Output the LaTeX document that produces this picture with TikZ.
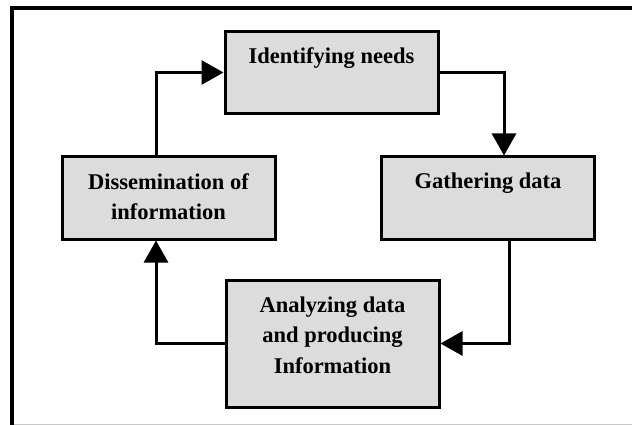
\documentclass[tikz,border=0pt]{standalone}
\usepackage{fontspec}
\setmainfont{Liberation Serif}
\usetikzlibrary{arrows.meta}
\definecolor{boxgray}{RGB}{220,220,220}
\begin{document}
\begin{tikzpicture}[x=1pt,y=-1pt,
  stage/.style={draw,line width=3pt,fill=boxgray,anchor=north,align=center,
    minimum width=213pt,inner sep=0pt,text height=32pt,text depth=50pt,
    font=\fontsize{22.5}{30.5}\selectfont\bfseries},
  flow/.style={-{Triangle[length=22pt,width=24pt]},line width=3pt}]
\useasboundingbox (0,0) rectangle (632,425);
% frame
\draw[line width=4pt] (12,425) -- (12,8) -- (632,8);
\draw[line width=1pt,black!22] (14,424) -- (632,424);

\node[stage](needs)         at (331.5,30)  {Identifying needs};
\node[stage](gathering)     at (488,155.5) {Gathering data};
\node[stage,text height=62.5pt,text depth=19.5pt](dissemination) at (168.5,155.5) {Dissemination of\\information};
\node[stage,text height=93pt,text depth=34pt](analyzing) at (332.5,278.5) {Analyzing data\\and producing\\Information};

\draw[flow] (needs.east) -| ([xshift=16pt]gathering.north);
\draw[flow] ([xshift=21pt]gathering.south) |- (analyzing.east);
\draw[flow] (analyzing.west) -| ([xshift=-12.5pt]dissemination.south);
\draw[flow] ([xshift=-12.5pt]dissemination.north) |- (needs.west);
\end{tikzpicture}
\end{document}
